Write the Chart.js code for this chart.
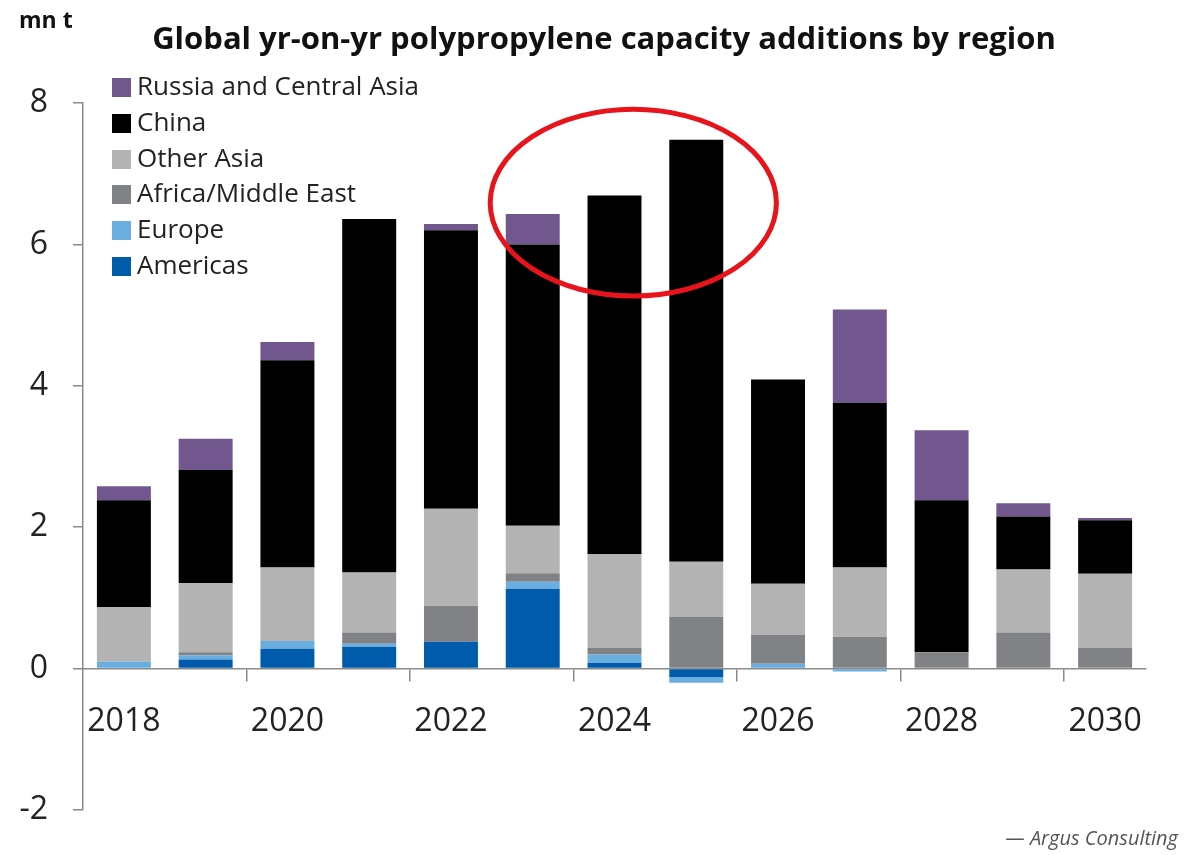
<!DOCTYPE html>
<html>
<head>
<meta charset="utf-8">
<script src="https://cdn.jsdelivr.net/npm/chart.js@4"></script>
<style>
  html, body { margin: 0; padding: 0; background: #fff; }
  #wrap { position: relative; width: 1202px; height: 855px; overflow: hidden; }
  #capChart { position: absolute; left: 0; top: 0; }
  #unit { position: absolute; left: 19px; top: 3px; font: bold 23px "Open Sans", sans-serif; color: #111; }
  #title { position: absolute; left: 0; width: 1208px; top: 16px; text-align: center;
           font: bold 31px "Open Sans", sans-serif; color: #111; }
  #legend { position: absolute; left: 112px; top: 68px; font: 26px "Open Sans", sans-serif; color: #222; }
  .row { height: 35.8px; line-height: 35.8px; white-space: nowrap; }
  .box { display: inline-block; width: 19px; height: 19px; margin-right: 6px; vertical-align: -2px; }
  #source { position: absolute; right: 24px; top: 824px; font: italic 20px "Open Sans", sans-serif; color: #555; }
</style>
</head>
<body>
<div id="wrap">
  <canvas id="capChart" width="1202" height="855"></canvas>
  <div id="unit">mn t</div>
  <div id="title">Global yr-on-yr polypropylene capacity additions by region</div>
  <div id="legend"></div>
  <div id="source">— Argus Consulting</div>
</div>
<script>
const years = ["2018", "2019", "2020", "2021", "2022", "2023", "2024", "2025", "2026", "2027", "2028", "2029", "2030"];

// mn t (stack order bottom -> top)
const americas  = [0,    0.13, 0.28, 0.31, 0.38, 1.13, 0.08, -0.12, 0,    0,     0,    0,    0];
const europe    = [0.10, 0.06, 0.11, 0.04, 0,    0.10, 0.12, -0.08, 0.07, -0.04, 0,    0,    0];
const africaME  = [0,    0.04, 0,    0.16, 0.51, 0.12, 0.09, 0.73,  0.41, 0.45,  0.23, 0.51, 0.29];
const otherAsia = [0.77, 0.98, 1.04, 0.85, 1.37, 0.67, 1.33, 0.78,  0.72, 0.98,  0,    0.89, 1.05];
const china     = [1.51, 1.60, 2.93, 5.00, 3.94, 3.98, 5.07, 5.97,  2.89, 2.33,  2.15, 0.75, 0.76];
const russiaCA  = [0.20, 0.44, 0.26, 0,    0.09, 0.43, 0,    0,     0,    1.32,  0.99, 0.19, 0.03];

const yTicks = [-2, 0, 2, 4, 6, 8];

const axisGray = "#8a8a8a";
const tickFont = { family: "'Open Sans', sans-serif", size: 32 };

// red ring drawn round 2024-25 (category index / value units)
const ringCenterIdx = 6.23;
const ringCenterVal = 6.59;
const ringRadiusIdx = 1.75;
const ringRadiusVal = 1.32;

const datasets = [
  { label: "Americas", data: americas, backgroundColor: "#005baa" },
  { label: "Europe", data: europe, backgroundColor: "#6aaee0" },
  { label: "Africa/Middle East", data: africaME, backgroundColor: "#808285" },
  { label: "Other Asia", data: otherAsia, backgroundColor: "#b3b3b3" },
  { label: "China", data: china, backgroundColor: "#000000" },
  { label: "Russia and Central Asia", data: russiaCA, backgroundColor: "#72578f" }
];

const ringPlugin = {
  id: "ringPlugin",
  afterDatasetsDraw(chart) {
    const xs = chart.scales.x;
    const ys = chart.scales.y;
    const step = xs.getPixelForValue(1) - xs.getPixelForValue(0);
    const cx = xs.getPixelForValue(0) + ringCenterIdx * step;
    const cy = ys.getPixelForValue(ringCenterVal);
    const rx = ringRadiusIdx * step;
    const ry = Math.abs(ys.getPixelForValue(0) - ys.getPixelForValue(ringRadiusVal));
    const ctx = chart.ctx;
    ctx.save();
    ctx.beginPath();
    ctx.ellipse(cx, cy, rx, ry, 0, 0, Math.PI * 2);
    ctx.strokeStyle = "#e8141b";
    ctx.lineWidth = 5;
    ctx.stroke();
    ctx.restore();
  }
};

function buildLegend() {
  const el = document.getElementById("legend");
  datasets.slice().reverse().forEach(function (ds) {
    const row = document.createElement("div");
    row.className = "row";
    row.innerHTML = '<span class="box" style="background:' + ds.backgroundColor + '"></span>' + ds.label;
    el.appendChild(row);
  });
}

function createChart() {
  const ctx = document.getElementById("capChart");
  new Chart(ctx, {
    type: "bar",
    data: {
      labels: years,
      datasets: datasets.map(function (ds) {
        return Object.assign({ barPercentage: 0.66, categoryPercentage: 1, borderWidth: 0 }, ds);
      })
    },
    options: {
      responsive: false,
      animation: false,
      devicePixelRatio: 1,
      layout: { padding: { left: 0, top: 103, right: 56, bottom: 45 } },
      plugins: {
        legend: { display: false },
        tooltip: { enabled: false }
      },
      scales: {
        x: {
          stacked: true,
          position: { y: 0 },
          offset: true,
          grid: {
            offset: true,
            drawOnChartArea: false,
            drawTicks: true,
            tickLength: 12,
            lineWidth: 1.5,
            color: function (c) {
              return (c.index > 0 && c.index % 2 === 0) ? axisGray : "rgba(0,0,0,0)";
            }
          },
          border: { color: axisGray, width: 1.5 },
          ticks: {
            autoSkip: false,
            maxRotation: 0,
            padding: 22,
            color: "#222",
            font: tickFont,
            callback: function (v, i) { return i % 2 === 0 ? years[i] : ""; }
          }
        },
        y: {
          stacked: true,
          min: yTicks[0],
          max: yTicks[yTicks.length - 1],
          afterFit: function (s) { s.width = 83; },
          grid: { drawOnChartArea: false, drawTicks: true, tickLength: 10, lineWidth: 1.5, color: axisGray },
          border: { color: axisGray, width: 1.5 },
          ticks: { stepSize: 2, padding: 25, color: "#222", font: tickFont }
        }
      }
    },
    plugins: [ringPlugin]
  });
}

document.addEventListener("DOMContentLoaded", function () {
  buildLegend();
  createChart();
});
</script>
</body>
</html>
